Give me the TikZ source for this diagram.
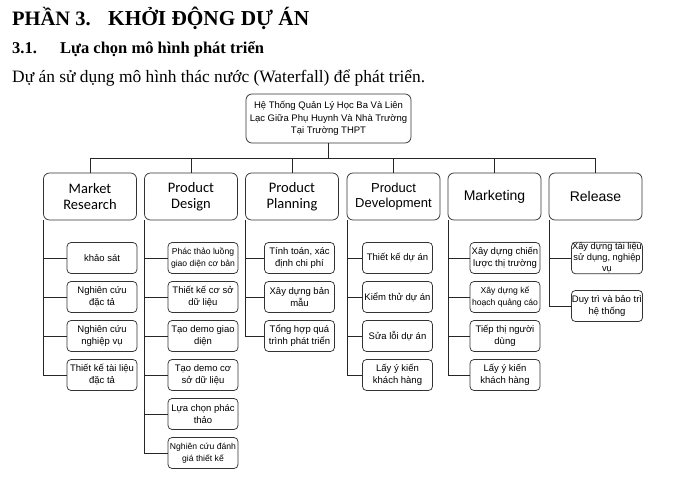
\documentclass[tikz,border=0pt]{standalone}
\usepackage{fontspec}
\setmainfont{Liberation Serif}
\newfontfamily\arialf{Liberation Sans}
\newfontfamily\calibf{Carlito}
\begin{document}
\begin{tikzpicture}[x=1pt,y=-1pt,
  boxline/.style={draw=black!80,line width=0.75pt},
  rootbox/.style={boxline,rounded corners=6pt,minimum width=165pt,minimum height=49pt,align=center,inner sep=1pt,
    font=\arialf\fontsize{9.5}{12.3}\selectfont},
  topbox/.style={boxline,rounded corners=6pt,minimum width=93pt,minimum height=47pt,align=center,inner sep=1pt},
  calibtext/.style={font=\calibf\fontsize{14.5}{15.5}\selectfont},
  arialtext/.style={font=\arialf\fontsize{14}{15.5}\selectfont},
  childbox/.style={boxline,rounded corners=4pt,minimum width=70pt,minimum height=31pt,align=center,inner sep=0.5pt,
    font=\arialf\fontsize{9.5}{12}\selectfont},
  smalltext/.style={font=\arialf\fontsize{8.6}{12}\selectfont},
  link/.style={draw=black!85,line width=0.75pt}
]
\useasboundingbox[fill=white] (0,0) rectangle (694,482);

% header texts
\node[anchor=base west,inner sep=0pt,font=\bfseries\fontsize{20.5}{24}\selectfont] (h1a) at (12,25) {PHẦN 3.};
\node[anchor=base west,inner sep=0pt,font=\bfseries\fontsize{21.3}{24}\selectfont] (h1b) at (108,25) {KHỞI ĐỘNG DỰ ÁN};
\node[anchor=base west,inner sep=0pt,font=\bfseries\fontsize{16.5}{20}\selectfont] (h2a) at (12,53) {3.1.};
\node[anchor=base west,inner sep=0pt,font=\bfseries\fontsize{16.5}{20}\selectfont] (h2b) at (60,53) {Lựa chọn mô hình phát triển};
\node[anchor=base west,inner sep=0pt,font=\fontsize{17.4}{20}\selectfont] (body) at (12,82) {Dự án sử dụng mô hình thác nước (Waterfall) để phát triển.};

% root
\node[rootbox] (root) at (328.5,118.5) {Hệ Thống Quản Lý Học Ba Và Liên\\Lạc Giữa Phụ Huynh Và Nhà Trường\\Tại Trường THPT};

% top level
\node[topbox,calibtext] (mr) at (90,196.5) {Market\\Research};
\node[topbox,calibtext] (pd) at (191,196.5) {Product\\Design};
\node[topbox,calibtext] (pp) at (292,196.5) {Product\\Planning};
\node[topbox,font=\arialf\fontsize{13}{15.5}\selectfont] (pdev) at (393.5,196.5) {Product\\Development};
\node[topbox,arialtext] (mkt) at (494.5,196.5) {Marketing};
\node[topbox,arialtext] (rel) at (595.5,196.5) {Release};

\coordinate (bus) at (0,158);
\draw[link] (root.south) -- (root.south |- bus);
\draw[link] (mr.north |- bus) -- (rel.north |- bus);
\foreach \t in {mr,pd,pp,pdev,mkt,rel} \draw[link] (\t.north) -- (\t.north |- bus);

% column 1
\node[childbox] (c11) at (102,258) {khảo sát};
\node[childbox] (c12) at (102,297) {Nghiên cứu\\đặc tả};
\node[childbox] (c13) at (102,336) {Nghiên cứu\\nghiệp vụ};
\node[childbox] (c14) at (102,375) {Thiết kế tài liệu\\đặc tả};
% column 2
\node[childbox,smalltext] (c21) at (203,258) {Phác thảo luồng\\giao diện cơ bản};
\node[childbox] (c22) at (203,297) {Thiết kế cơ sở\\dữ liệu};
\node[childbox] (c23) at (203,336) {Tạo demo giao\\diện};
\node[childbox] (c24) at (203,375) {Tạo demo cơ\\sở dữ liệu};
\node[childbox] (c25) at (203,414) {Lựa chọn phác\\thảo};
\node[childbox,smalltext] (c26) at (203,453) {Nghiên cứu đánh\\giá thiết kế};
% column 3
\node[childbox] (c31) at (299.5,258) {Tính toán, xác\\định chi phí};
\node[childbox] (c32) at (299.5,297) {Xây dựng bản\\mẫu};
\node[childbox] (c33) at (299.5,336) {Tổng hợp quá\\trình phát triển};
% column 4
\node[childbox] (c41) at (397.5,258) {Thiết kế dự án};
\node[childbox] (c42) at (397.5,297) {Kiểm thử dự án};
\node[childbox] (c43) at (397.5,336) {Sửa lỗi dự án};
\node[childbox] (c44) at (397.5,375) {Lấy ý kiến\\khách hàng};
% column 5
\node[childbox] (c51) at (505,258) {Xây dựng chiến\\lược thị trường};
\node[childbox,smalltext] (c52) at (505,297) {Xây dựng kế\\hoạch quảng cáo};
\node[childbox] (c53) at (505,336) {Tiếp thị người\\dùng};
\node[childbox] (c54) at (505,375) {Lấy ý kiến\\khách hàng};
% column 6
\node[childbox,font=\arialf\fontsize{9.3}{11.2}\selectfont] (c61) at (607,258) {Xây dựng tài liệu\\sử dụng, nghiệp\\vụ};
\node[childbox] (c62) at (607,306) {Duy trì và bảo trì\\hệ thống};

% trunks
\coordinate (t1) at ([xshift=0.5pt]mr.south west);
\coordinate (t2) at ([xshift=0.5pt]pd.south west);
\coordinate (t3) at ([xshift=0.5pt]pp.south west);
\coordinate (t4) at ([xshift=0.5pt]pdev.south west);
\coordinate (t5) at ([xshift=0.5pt]mkt.south west);
\coordinate (t6) at ([xshift=0.5pt]rel.south west);
\foreach \c in {c11,c12,c13,c14} \draw[link] (t1) |- (\c.west);
\foreach \c in {c21,c22,c23,c24,c25,c26} \draw[link] (t2) |- (\c.west);
\foreach \c in {c31,c32,c33} \draw[link] (t3) |- (\c.west);
\foreach \c in {c41,c42,c43,c44} \draw[link] (t4) |- (\c.west);
\foreach \c in {c51,c52,c53,c54} \draw[link] (t5) |- (\c.west);
\foreach \c in {c61,c62} \draw[link] (t6) |- (\c.west);
\end{tikzpicture}
\end{document}
